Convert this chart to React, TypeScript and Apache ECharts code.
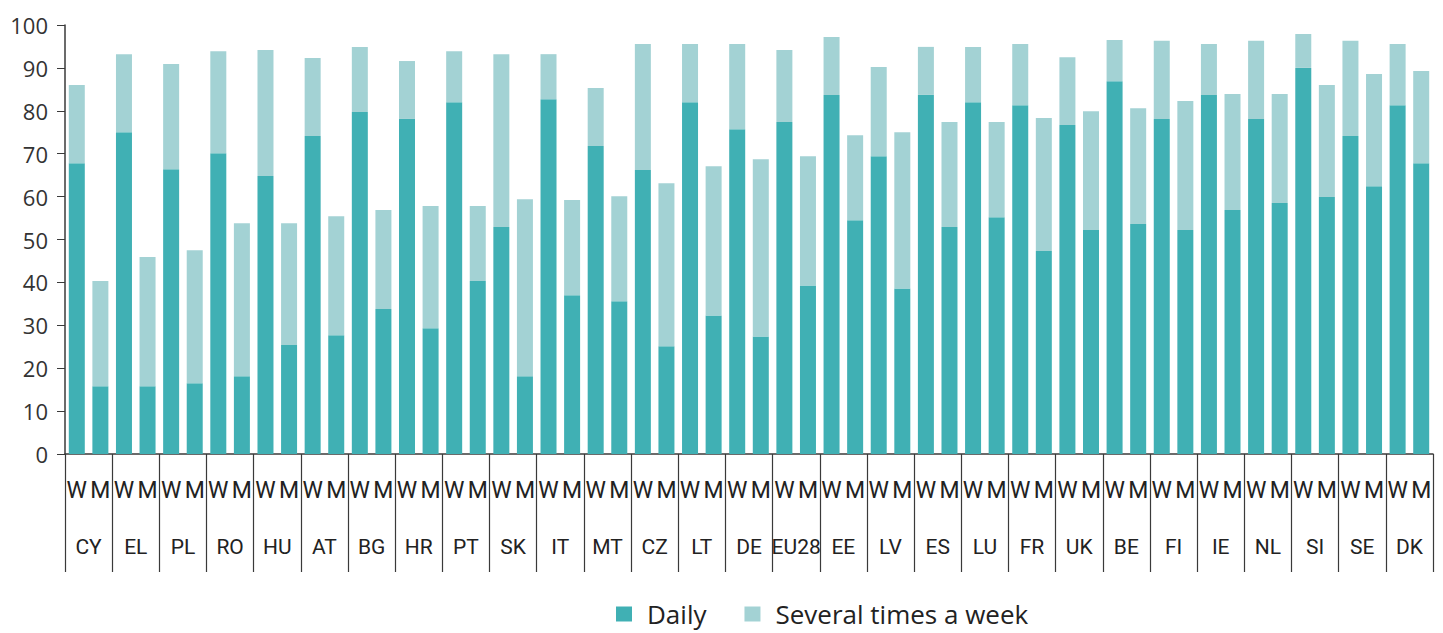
import React, { useEffect, useRef } from "react";
import * as echarts from "echarts";

const countries = ["CY","EL","PL","RO","HU","AT","BG","HR","PT","SK","IT","MT","CZ","LT","DE","EU28","EE","LV","ES","LU","FR","UK","BE","FI","IE","NL","SI","SE","DK"];
const groupLabels = ["W", "M"];
const dailyW = [67.8,75.0,66.4,70.1,64.8,74.1,79.7,78.1,82.0,52.9,82.7,71.8,66.2,82.0,75.7,77.4,83.7,69.4,83.7,82.0,81.3,76.7,86.9,78.1,83.7,78.1,90.0,74.1,81.3];
const dailyM = [15.8,15.8,16.5,18.1,25.4,27.7,33.8,29.3,40.3,18.1,37.0,35.6,25.1,32.3,27.4,39.3,54.5,38.6,52.9,55.2,47.3,52.2,53.6,52.2,56.9,58.5,59.9,62.4,67.8];
const severalW = [18.2,18.2,24.5,23.8,29.4,18.2,15.2,13.5,11.9,40.3,10.5,13.5,29.4,13.6,19.9,16.8,13.5,20.8,11.2,12.9,14.3,15.8,9.6,18.2,11.9,18.2,7.9,22.2,14.3];
const severalM = [24.5,30.1,31.0,35.7,28.4,27.7,23.1,28.5,17.5,41.3,22.2,24.5,38.0,34.8,41.3,30.1,19.8,36.4,24.5,22.2,31.0,27.7,27.0,30.1,27.0,25.4,26.1,26.2,21.5];
const yTicks = [0, 10, 20, 30, 40, 50, 60, 70, 80, 90, 100];

const DARK = "#40b0b4";
const LIGHT = "#a3d2d4";
const AXIS = "#3a3a3a";
const XFONT = "Roboto, 'Open Sans', sans-serif";

export default function App() {
  const ref = useRef<HTMLDivElement>(null);
  useEffect(() => {
    if (!ref.current) return;
    const chart = echarts.init(ref.current, null, { renderer: "svg" });
    const inner: string[] = [];
    const daily: number[] = [];
    const several: number[] = [];
    countries.forEach((_, i) => {
      inner.push(groupLabels[0], groupLabels[1]);
      daily.push(dailyW[i], dailyM[i]);
      several.push(severalW[i], severalM[i]);
    });
    chart.setOption({
      animation: false,
      grid: { left: 65, right: 10, top: 25, bottom: 179, containLabel: false },
      legend: {
        top: 601,
        left: 616,
        padding: 0,
        icon: "rect",
        itemWidth: 16,
        itemHeight: 15,
        itemGap: 38,
        textStyle: { fontSize: 26, lineHeight: 26, fontFamily: "'Open Sans', sans-serif", color: "#222", padding: [0, 0, 0, 10] },
        data: ["Daily", "Several times a week"],
      },
      xAxis: [
        {
          type: "category",
          data: inner,
          position: "bottom",
          axisLine: { show: true, lineStyle: { color: AXIS, width: 1.5 } },
          axisTick: { show: false },
          axisLabel: { interval: 0, margin: 25, fontSize: 23, fontFamily: XFONT, color: "#222" },
        },
        {
          type: "category",
          data: countries,
          position: "bottom",
          axisLine: { show: false },
          axisTick: { show: true, interval: 0, length: 118, lineStyle: { color: AXIS, width: 1.2 } },
          axisLabel: { interval: 0, margin: 82, fontSize: 21, fontFamily: XFONT, color: "#222" },
        },
      ],
      yAxis: {
        type: "value",
        min: yTicks[0],
        max: yTicks[yTicks.length - 1],
        interval: 10,
        axisLine: { show: true, lineStyle: { color: AXIS, width: 1.5 } },
        axisTick: { show: true, length: 8, lineStyle: { color: AXIS } },
        splitLine: { show: false },
        axisLabel: { margin: 17, fontSize: 22, fontFamily: "'Open Sans', sans-serif", color: "#333" },
      },
      series: [
        { name: "Daily", type: "bar", stack: "s", xAxisIndex: 0, data: daily, barWidth: 16, itemStyle: { color: DARK } },
        { name: "Several times a week", type: "bar", stack: "s", xAxisIndex: 0, data: several, barWidth: 16, itemStyle: { color: LIGHT } },
      ],
    });
    return () => chart.dispose();
  }, []);
  return <div ref={ref} style={{ position: "absolute", left: 0, top: 0, width: 1443, height: 633 }} />;
}
